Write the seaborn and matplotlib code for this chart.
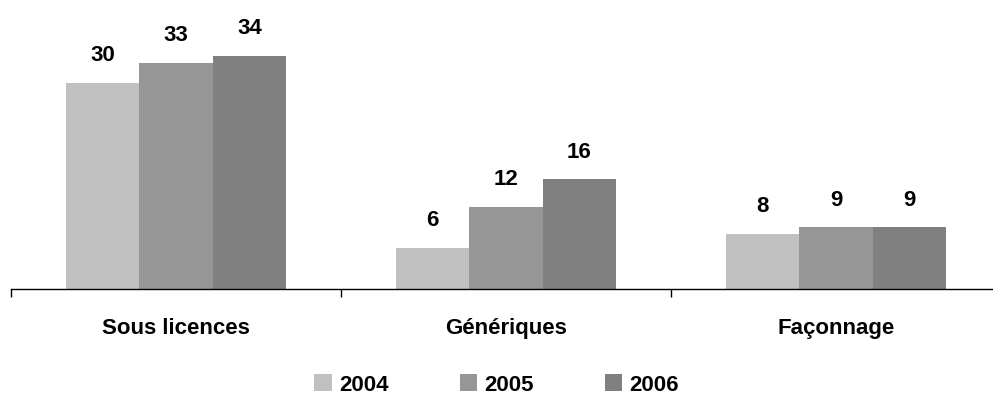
import matplotlib
matplotlib.use("Agg")
import matplotlib.pyplot as plt
import seaborn as sns
import pandas as pd
from matplotlib.ticker import FixedLocator

categories = ["Sous licences", "Génériques", "Façonnage"]
years = ["2004", "2005", "2006"]
values_2004 = [30, 6, 8]
values_2005 = [33, 12, 9]
values_2006 = [34, 16, 9]
colors = ["#c0c0c0", "#969696", "#808080"]

rows = []
for year, vals in zip(years, [values_2004, values_2005, values_2006]):
    for cat, v in zip(categories, vals):
        rows.append({"cat": cat, "year": year, "val": v})
df = pd.DataFrame(rows)

sns.set_style("white")
plt.rcParams["font.family"] = ["Liberation Sans", "DejaVu Sans"]
plt.rcParams["font.weight"] = "bold"
plt.rcParams["text.color"] = "black"
plt.rcParams["xtick.color"] = "black"

fig = plt.figure(figsize=(9.93, 4.01), dpi=100)
ax = fig.add_axes([11 / 993, 1 - 289 / 401, 990 / 993, 269 / 401])

sns.barplot(data=df, x="cat", y="val", hue="year", palette=colors,
            width=0.667, saturation=1, linewidth=0, ax=ax, legend=True)

for c in ax.containers:
    ax.bar_label(c, fmt="%d", padding=12, fontsize=16, fontweight="bold", color="black")

ax.set_xlim(-0.5, 2.5)
ax.set_ylim(0, 39.2)
ax.set_xlabel("")
ax.set_ylabel("")
ax.set_yticks([])
for s in ["top", "right", "left"]:
    ax.spines[s].set_visible(False)
ax.spines["bottom"].set_color("black")
ax.spines["bottom"].set_linewidth(1)

ax.xaxis.set_minor_locator(FixedLocator([-0.5, 0.5, 1.5, 2.5]))
ax.tick_params(axis="x", which="minor", length=6, color="black", width=1, direction="out", bottom=True)
ax.tick_params(axis="x", which="major", length=0, pad=21, labelsize=16, labelcolor="black")
for lab in ax.get_xticklabels():
    lab.set_fontweight("bold")

handles, labels = ax.get_legend_handles_labels()
ax.legend_.remove()
fig.legend(handles, labels, loc="center", bbox_to_anchor=(0.5, 1 - 385 / 401),
           ncol=3, frameon=False, handlelength=0.8, handleheight=0.8,
           handletextpad=0.3, columnspacing=3.2, prop={"size": 16, "weight": "bold"})

fig.savefig("out.png", dpi=100)
